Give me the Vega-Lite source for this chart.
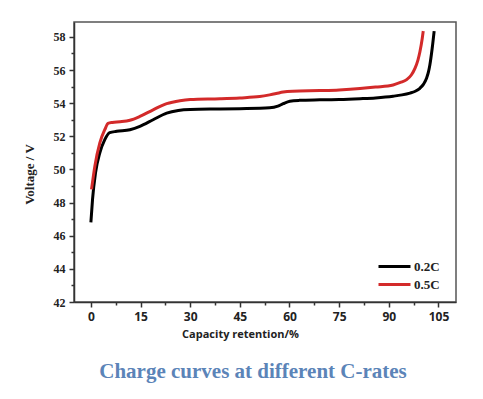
{
  "$schema": "https://vega.github.io/schema/vega-lite/v6.json",
  "autosize": "none",
  "width": 382,
  "height": 280,
  "padding": {"left": 74, "top": 22, "right": 27, "bottom": 97},
  "background": "white",
  "title": {
    "text": "Charge curves at different C-rates",
    "orient": "bottom",
    "anchor": "middle",
    "frame": "group",
    "dx": -12,
    "offset": 22,
    "font": "Liberation Serif",
    "fontSize": 21,
    "fontWeight": "bold",
    "color": "#5b84b8"
  },
  "data": {
    "values": [
      {"rate": "0.2C", "capacity": 0, "voltage": 46.8},
      {"rate": "0.2C", "capacity": 0.5, "voltage": 48.2},
      {"rate": "0.2C", "capacity": 1.4, "voltage": 49.8},
      {"rate": "0.2C", "capacity": 2.7, "voltage": 51.0},
      {"rate": "0.2C", "capacity": 4.2, "voltage": 51.8},
      {"rate": "0.2C", "capacity": 5.7, "voltage": 52.22},
      {"rate": "0.2C", "capacity": 7.8, "voltage": 52.3},
      {"rate": "0.2C", "capacity": 11.8, "voltage": 52.4},
      {"rate": "0.2C", "capacity": 14.8, "voltage": 52.6},
      {"rate": "0.2C", "capacity": 18.8, "voltage": 53.0},
      {"rate": "0.2C", "capacity": 22.9, "voltage": 53.4},
      {"rate": "0.2C", "capacity": 26.4, "voltage": 53.56},
      {"rate": "0.2C", "capacity": 30, "voltage": 53.62},
      {"rate": "0.2C", "capacity": 39, "voltage": 53.65},
      {"rate": "0.2C", "capacity": 45, "voltage": 53.67},
      {"rate": "0.2C", "capacity": 54, "voltage": 53.72},
      {"rate": "0.2C", "capacity": 56.5, "voltage": 53.82},
      {"rate": "0.2C", "capacity": 58.1, "voltage": 53.97},
      {"rate": "0.2C", "capacity": 60.1, "voltage": 54.12},
      {"rate": "0.2C", "capacity": 63, "voltage": 54.17},
      {"rate": "0.2C", "capacity": 69.2, "voltage": 54.2},
      {"rate": "0.2C", "capacity": 75, "voltage": 54.22},
      {"rate": "0.2C", "capacity": 81.3, "voltage": 54.27},
      {"rate": "0.2C", "capacity": 86, "voltage": 54.32},
      {"rate": "0.2C", "capacity": 91.3, "voltage": 54.42},
      {"rate": "0.2C", "capacity": 94, "voltage": 54.5},
      {"rate": "0.2C", "capacity": 96.4, "voltage": 54.61},
      {"rate": "0.2C", "capacity": 98, "voltage": 54.72},
      {"rate": "0.2C", "capacity": 99.4, "voltage": 54.9},
      {"rate": "0.2C", "capacity": 100.5, "voltage": 55.15},
      {"rate": "0.2C", "capacity": 101.4, "voltage": 55.5},
      {"rate": "0.2C", "capacity": 102.0, "voltage": 55.9},
      {"rate": "0.2C", "capacity": 102.4, "voltage": 56.3},
      {"rate": "0.2C", "capacity": 103.1, "voltage": 57.3},
      {"rate": "0.2C", "capacity": 103.7, "voltage": 58.35},
      {"rate": "0.5C", "capacity": 0.2, "voltage": 48.8},
      {"rate": "0.5C", "capacity": 1.2, "voltage": 50.2},
      {"rate": "0.5C", "capacity": 2.7, "voltage": 51.6},
      {"rate": "0.5C", "capacity": 4.2, "voltage": 52.4},
      {"rate": "0.5C", "capacity": 5.2, "voltage": 52.78},
      {"rate": "0.5C", "capacity": 6.5, "voltage": 52.84},
      {"rate": "0.5C", "capacity": 8.8, "voltage": 52.88},
      {"rate": "0.5C", "capacity": 11.8, "voltage": 52.97},
      {"rate": "0.5C", "capacity": 14.8, "voltage": 53.2},
      {"rate": "0.5C", "capacity": 18.8, "voltage": 53.6},
      {"rate": "0.5C", "capacity": 22.9, "voltage": 53.97},
      {"rate": "0.5C", "capacity": 26.9, "voltage": 54.15},
      {"rate": "0.5C", "capacity": 30, "voltage": 54.22},
      {"rate": "0.5C", "capacity": 39, "voltage": 54.27},
      {"rate": "0.5C", "capacity": 45, "voltage": 54.32},
      {"rate": "0.5C", "capacity": 51, "voltage": 54.4},
      {"rate": "0.5C", "capacity": 54, "voltage": 54.5},
      {"rate": "0.5C", "capacity": 56, "voltage": 54.58},
      {"rate": "0.5C", "capacity": 58.1, "voltage": 54.67},
      {"rate": "0.5C", "capacity": 61, "voltage": 54.72},
      {"rate": "0.5C", "capacity": 69.2, "voltage": 54.76},
      {"rate": "0.5C", "capacity": 75, "voltage": 54.8},
      {"rate": "0.5C", "capacity": 81.3, "voltage": 54.88},
      {"rate": "0.5C", "capacity": 86, "voltage": 54.97},
      {"rate": "0.5C", "capacity": 91.3, "voltage": 55.1},
      {"rate": "0.5C", "capacity": 93.5, "voltage": 55.25},
      {"rate": "0.5C", "capacity": 95.4, "voltage": 55.42},
      {"rate": "0.5C", "capacity": 96.8, "voltage": 55.7},
      {"rate": "0.5C", "capacity": 97.9, "voltage": 56.1},
      {"rate": "0.5C", "capacity": 98.8, "voltage": 56.6},
      {"rate": "0.5C", "capacity": 99.4, "voltage": 57.1},
      {"rate": "0.5C", "capacity": 100.1, "voltage": 57.9},
      {"rate": "0.5C", "capacity": 100.4, "voltage": 58.35}
    ]
  },
  "mark": {"type": "line", "interpolate": "monotone", "strokeWidth": 3, "clip": true},
  "encoding": {
    "x": {
      "field": "capacity",
      "type": "quantitative",
      "scale": {"domain": [-5.1, 110.3], "nice": false, "zero": false},
      "axis": {
        "title": "Capacity retention/%",
        "titleFont": "Open Sans",
        "titleFontSize": 11,
        "titleFontWeight": "bold",
        "titleColor": "#222",
        "titleAnchor": "middle",
        "titleX": 166,
        "titlePadding": 6,
        "values": [0, 7.5, 15, 22.5, 30, 37.5, 45, 52.5, 60, 67.5, 75, 82.5, 90, 97.5, 105],
        "labelExpr": "datum.value % 15 === 0 ? datum.label : ''",
        "tickSize": {"condition": {"test": "datum.value % 15 === 0", "value": 5}, "value": 3},
        "labelFont": "Open Sans",
        "labelFontSize": 12,
        "labelFontWeight": "bold",
        "labelColor": "#222",
        "labelPadding": 4,
        "labelFlush": false,
        "grid": false,
        "domainColor": "#333",
        "domainWidth": 1.5,
        "tickColor": "#333",
        "tickWidth": 1.5
      }
    },
    "y": {
      "field": "voltage",
      "type": "quantitative",
      "scale": {"domain": [42, 58.9], "nice": false, "zero": false},
      "axis": {
        "title": "Voltage / V",
        "titleFont": "Liberation Serif",
        "titleFontSize": 13,
        "titleFontWeight": "bold",
        "titleColor": "#222",
        "titleY": 152,
        "titleAnchor": "middle",
        "titlePadding": 17,
        "values": [42, 43, 44, 45, 46, 47, 48, 49, 50, 51, 52, 53, 54, 55, 56, 57, 58],
        "labelExpr": "datum.value % 2 === 0 ? datum.label : ''",
        "tickSize": {"condition": {"test": "datum.value % 2 === 0", "value": 5}, "value": 3},
        "labelFont": "Liberation Serif",
        "labelFontSize": 12,
        "labelFontWeight": "bold",
        "labelColor": "#222",
        "labelPadding": 4,
        "labelFlush": false,
        "grid": false,
        "domainColor": "#333",
        "domainWidth": 1.5,
        "tickColor": "#333",
        "tickWidth": 1.5
      }
    },
    "color": {
      "field": "rate",
      "type": "nominal",
      "scale": {"domain": ["0.2C", "0.5C"], "range": ["#000000", "#d32a2a"]},
      "legend": {
        "title": null,
        "orient": "none",
        "legendX": 311,
        "legendY": 235,
        "symbolType": "M-2,0H2",
        "symbolSize": 256,
        "symbolStrokeWidth": 3,
        "labelFont": "Liberation Serif",
        "labelFontSize": 13,
        "labelFontWeight": "bold",
        "labelColor": "#222",
        "labelOffset": 10,
        "rowPadding": 1
      }
    }
  },
  "config": {
    "view": {"stroke": "#555", "strokeWidth": 1.5}
  }
}
